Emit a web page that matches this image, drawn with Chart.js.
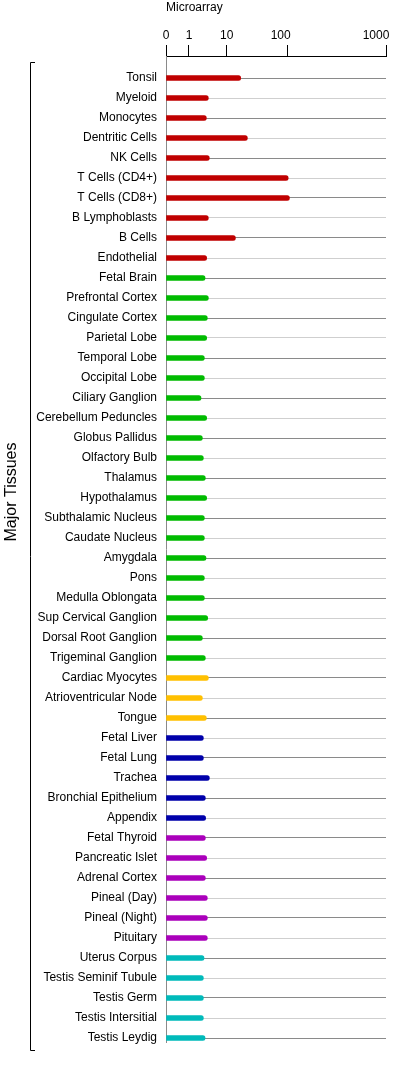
<!DOCTYPE html>
<html>
<head>
<meta charset="utf-8">
<script src="https://cdn.jsdelivr.net/npm/chart.js@4/dist/chart.umd.min.js"></script>
<style>
  html, body { margin: 0; padding: 0; background: #fff; }
  #wrap { position: relative; width: 393px; height: 1080px; }
</style>
</head>
<body>
<div id="wrap"><canvas id="c"></canvas></div>
<script>
// ---- data ----
const tissues = [
  "Tonsil", "Myeloid", "Monocytes", "Dentritic Cells", "NK Cells",
  "T Cells (CD4+)", "T Cells (CD8+)", "B Lymphoblasts", "B Cells", "Endothelial",
  "Fetal Brain", "Prefrontal Cortex", "Cingulate Cortex", "Parietal Lobe", "Temporal Lobe",
  "Occipital Lobe", "Ciliary Ganglion", "Cerebellum Peduncles", "Globus Pallidus", "Olfactory Bulb",
  "Thalamus", "Hypothalamus", "Subthalamic Nucleus", "Caudate Nucleus", "Amygdala",
  "Pons", "Medulla Oblongata", "Sup Cervical Ganglion", "Dorsal Root Ganglion", "Trigeminal Ganglion",
  "Cardiac Myocytes", "Atrioventricular Node", "Tongue",
  "Fetal Liver", "Fetal Lung", "Trachea", "Bronchial Epithelium", "Appendix",
  "Fetal Thyroid", "Pancreatic Islet", "Adrenal Cortex", "Pineal (Day)", "Pineal (Night)", "Pituitary",
  "Uterus Corpus", "Testis Seminif Tubule", "Testis Germ", "Testis Intersitial", "Testis Leydig"
];
const values = [
  17, 3.25, 2.88, 21.9, 3.45,
  102, 105, 3.25, 13.9, 2.94,
  2.66, 3.26, 3.06, 2.94, 2.55,
  2.55, 2.08, 2.94, 2.26, 2.4,
  2.71, 2.94, 2.55, 2.55, 2.82,
  2.55, 2.55, 3.13, 2.26, 2.71,
  3.26, 2.26, 2.88,
  2.4, 2.4, 3.46, 2.71, 2.76,
  2.71, 2.94, 2.71, 3.06, 3.06, 3.06,
  2.5, 2.4, 2.4, 2.4, 2.66
];
const groups = [
  0,0,0,0,0,0,0,0,0,0,
  1,1,1,1,1,1,1,1,1,1,1,1,1,1,1,1,1,1,1,1,
  2,2,2,
  3,3,3,3,3,
  4,4,4,4,4,4,
  5,5,5,5,5
];
const groupColors = ["#c00000", "#00bb00", "#ffc000", "#0000aa", "#aa00bb", "#00baba"];
const xTickValues = [0, 1, 10, 100, 1000];
const xTickLabels = ["0", "1", "10", "100    ", "1000      "];
const axisTitle = "Microarray";
const groupTitle = "Major Tissues";

// ---- custom compressed scale (piecewise log between tick anchors) ----
const anchorFractions = [0, 0.1045, 0.276, 0.5514, 1];
function toDecimal(v) {
  if (v == null || v <= 0) return 0;
  const a = xTickValues;
  for (let i = 0; i < a.length - 1; i++) {
    if (v <= a[i + 1] || i === a.length - 2) {
      let t;
      if (a[i] === 0) t = v / a[i + 1];
      else t = (Math.log10(v) - Math.log10(a[i])) / (Math.log10(a[i + 1]) - Math.log10(a[i]));
      return anchorFractions[i] + (anchorFractions[i + 1] - anchorFractions[i]) * t;
    }
  }
  return 1;
}
class TissueAxis extends Chart.Scale {
  parse(raw) { return raw == null ? null : +raw; }
  determineDataLimits() { this.min = 0; this.max = xTickValues[xTickValues.length - 1]; }
  buildTicks() { return xTickValues.map(v => ({ value: v })); }
  getLabelForValue(v) { return String(v); }
  getPixelForValue(v) { return this.getPixelForDecimal(toDecimal(v)); }
  getValueForPixel(p) { return this.getDecimalForPixel(p); }
}
TissueAxis.id = 'tissue';
TissueAxis.defaults = {};
Chart.register(TissueAxis);

const FONT = "'Liberation Sans', Arial, Helvetica, sans-serif";

const decor = {
  id: 'decor',
  afterDraw(chart) {
    const ctx = chart.ctx;
    ctx.save();
    ctx.strokeStyle = '#000';
    ctx.lineWidth = 1;
    ctx.beginPath();
    ctx.moveTo(35, 62.5); ctx.lineTo(30.5, 62.5); ctx.lineTo(30.5, 1050.5); ctx.lineTo(35, 1050.5);
    ctx.stroke();
    ctx.translate(12, 492);
    ctx.rotate(-Math.PI / 2);
    ctx.fillStyle = '#000';
    ctx.font = "16px " + FONT;
    ctx.textAlign = 'center';
    ctx.textBaseline = 'middle';
    ctx.fillText(groupTitle, 0, 0);
    ctx.restore();
  }
};

new Chart(document.getElementById('c'), {
  type: 'bar',
  data: {
    datasets: [{
      data: values.map((v, i) => ({ x: v, y: i })),
      backgroundColor: groups.map(g => groupColors[g]),
      borderWidth: 0,
      barThickness: 5,
      borderRadius: 2.5
    }]
  },
  options: {
    indexAxis: 'y',
    responsive: true,
    maintainAspectRatio: false,
    animation: false,
    layout: { padding: { left: 0, right: 7, top: 0, bottom: 38 } },
    plugins: { legend: { display: false }, tooltip: { enabled: false } },
    scales: {
      x: {
        type: 'tissue',
        position: 'top',
        afterFit(s) { s.height = 56; s.paddingLeft = 0; s.paddingRight = 0; },
        grid: { drawOnChartArea: false, drawTicks: true, tickLength: 11, color: '#000', lineWidth: 1 },
        border: { display: true, color: '#000', width: 1 },
        ticks: {
          autoSkip: false, maxRotation: 0, minRotation: 0, padding: 2,
          color: '#000', font: { size: 12, family: FONT },
          callback: (v, i) => xTickLabels[i]
        },
        title: {
          display: true, text: axisTitle, align: 'start', color: '#000',
          font: { size: 12, family: FONT }, padding: { top: 0, bottom: 13.6 }
        }
      },
      y: {
        type: 'linear',
        reverse: true,
        offset: false,
        bounds: 'data',
        min: -1.1,
        max: 48.2,
        afterBuildTicks(s) { s.ticks = tissues.map((_, i) => ({ value: i })); },
        afterFit(s) { s.width = 166; s.paddingTop = 0; s.paddingBottom = 0; },
        grid: {
          offset: false,
          drawTicks: false,
          lineWidth: 1,
          color: (ctx) => (ctx.tick && ctx.tick.value % 2 === 0) ? '#8a8a8a' : '#cfcfcf'
        },
        border: { display: true, color: '#8a8a8a', width: 1 },
        ticks: {
          autoSkip: false, padding: 9, color: '#000',
          font: { size: 12, family: FONT },
          callback: (v) => tissues[v]
        }
      }
    }
  },
  plugins: [decor]
});
</script>
</body>
</html>
